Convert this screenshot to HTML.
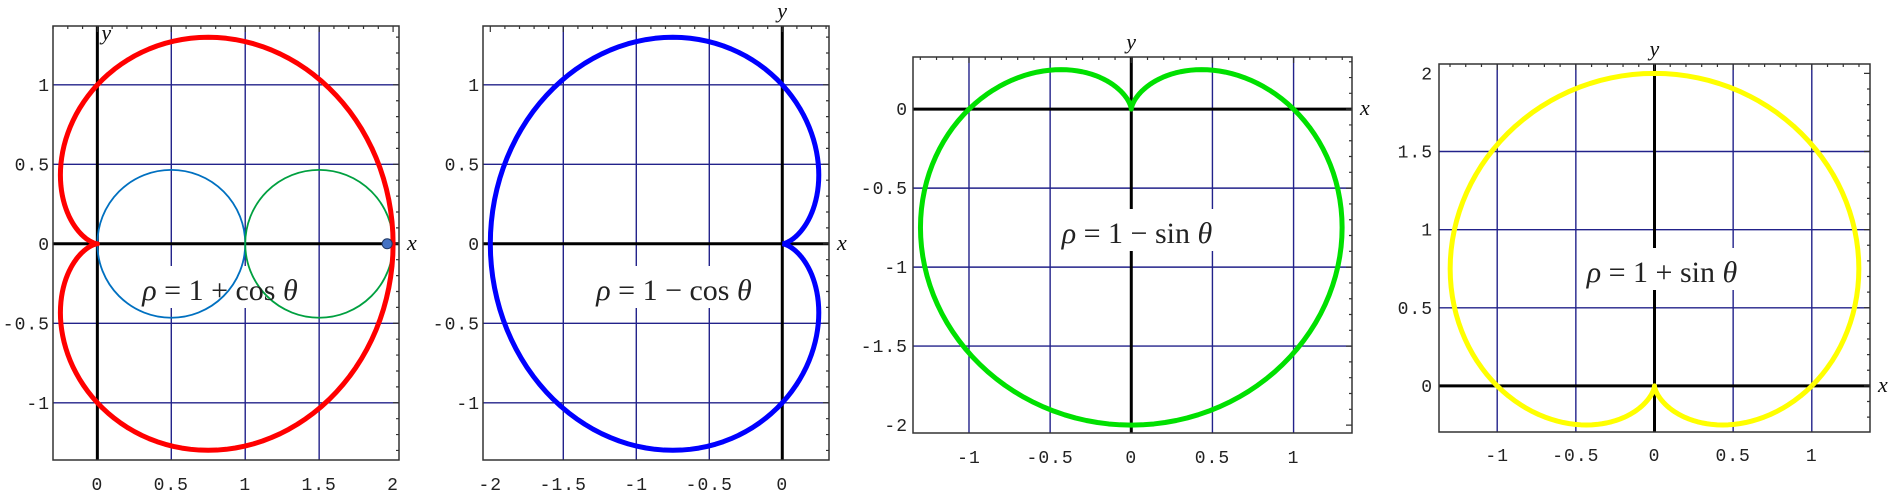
<!DOCTYPE html>
<html><head><meta charset="utf-8"><style>
html,body{margin:0;padding:0;background:#fff;}
svg{display:block;}
.tk{font-family:"Liberation Mono",monospace;font-size:18px;letter-spacing:1px;fill:#222;}
.ax{font-family:"Liberation Serif",serif;font-style:italic;font-size:22px;fill:#111;}
.eq{font-family:"Liberation Serif",serif;font-size:30px;fill:#222;}
</style></head><body>
<svg id="chart" width="1891" height="497" viewBox="0 0 1891 497"></svg>
<script>
// ---- data ----
const panelNames = ["cardioid-1-plus-cos","cardioid-1-minus-cos","cardioid-1-minus-sin","cardioid-1-plus-sin"];
const panelFuncs = ["1+cos","1-cos","1-sin","1+sin"];
const panelColors = ["#ff0000","#0000ff","#00e000","#ffff00"];
const xTicks1 = [0,0.5,1,1.5,2];
const xTickLabels1 = ["0","0.5","1","1.5","2"];
const xTicks2 = [-2,-1.5,-1,-0.5,0];
const xTickLabels2 = ["-2","-1.5","-1","-0.5","0"];
const xTicks34 = [-1,-0.5,0,0.5,1];
const xTickLabels34 = ["-1","-0.5","0","0.5","1"];
const yTicks12 = [-1,-0.5,0,0.5,1];
const yTickLabels12 = ["-1","-0.5","0","0.5","1"];
const yTicks3 = [-2,-1.5,-1,-0.5,0];
const yTickLabels3 = ["-2","-1.5","-1","-0.5","0"];
const yTicks4 = [0,0.5,1,1.5,2];
const yTickLabels4 = ["0","0.5","1","1.5","2"];
const circleCentersX = [0.5,1.5];
const circleRadii = [0.5,0.5];
const circleColors = ["#0070c0","#00a040"];
const markerX = [1.96];
const thetaSamples = [];
for(let i=0;i<=360;i+=2) thetaSamples.push(i);

// ---- layout ----
const panels = [
 {x0:53,x1:399,y0:26,y1:460,xmin:-0.3,xmax:2.04,ymin:-1.36,ymax:1.37,xt:xTicks1,xl:xTickLabels1,yt:yTicks12,yl:yTickLabels12,xlabY:490,ylabR:50,eq:[220,292]},
 {x0:483,x1:829,y0:26,y1:460,xmin:-2.05,xmax:0.32,ymin:-1.36,ymax:1.37,xt:xTicks2,xl:xTickLabels2,yt:yTicks12,yl:yTickLabels12,xlabY:490,ylabR:480,eq:[674,292]},
 {x0:913,x1:1352,y0:57,y1:433,xmin:-1.345,xmax:1.36,ymin:-2.05,ymax:0.33,xt:xTicks34,xl:xTickLabels34,yt:yTicks3,yl:yTickLabels3,xlabY:463,ylabR:908,eq:[1137,235]},
 {x0:1439,x1:1870,y0:64,y1:432,xmin:-1.37,xmax:1.37,ymin:-0.295,ymax:2.06,xt:xTicks34,xl:xTickLabels34,yt:yTicks4,yl:yTickLabels4,xlabY:461,ylabR:1433,eq:[1662,274]}
];
const NS="http://www.w3.org/2000/svg";
const svg=document.getElementById('chart');
function mk(tag,attrs,parent){const e=document.createElementNS(NS,tag);for(const k in attrs)e.setAttribute(k,attrs[k]);(parent||svg).appendChild(e);return e;}
function rhoOf(f,t){if(f==="1+cos")return 1+Math.cos(t);if(f==="1-cos")return 1-Math.cos(t);if(f==="1-sin")return 1-Math.sin(t);return 1+Math.sin(t);}

panels.forEach((p,pi)=>{
 const sx=v=>p.x0+(v-p.xmin)/(p.xmax-p.xmin)*(p.x1-p.x0);
 const sy=v=>p.y1-(v-p.ymin)/(p.ymax-p.ymin)*(p.y1-p.y0);
 const g=mk('g',{});
 
 
 // grid (no lines at |v|=2)
 p.xt.forEach(v=>{if(v===0||Math.abs(v)===2)return;const l=mk('line',{x1:sx(v),x2:sx(v),y1:p.y0,y2:p.y1,stroke:'#22228a','stroke-width':1.4},g);
  
  });
 p.yt.forEach(v=>{if(v===0||Math.abs(v)===2)return;const l=mk('line',{x1:p.x0,x2:p.x1,y1:sy(v),y2:sy(v),stroke:'#22228a','stroke-width':1.4},g);
  
  });
 // axes
 const xa=mk('line',{x1:p.x0,x2:p.x1,y1:sy(0),y2:sy(0),stroke:'#000','stroke-width':3},g);
 
 
 const ya=mk('line',{x1:sx(0),x2:sx(0),y1:p.y0,y2:p.y1,stroke:'#000','stroke-width':3},g);
 
 
 // frame
 const fr=mk('rect',{x:p.x0,y:p.y0,width:p.x1-p.x0,height:p.y1-p.y0,fill:'none',stroke:'#333','stroke-width':1.5},g);
 
 
 // minor ticks top & right
 let tickPath='';
 for(let v=Math.ceil(p.xmin*10);v<=Math.floor(p.xmax*10);v++){const L=(v%5===0)?6:3;tickPath+=`M${sx(v/10)},${p.y0}v${L}`;}
 for(let v=Math.ceil(p.ymin*10);v<=Math.floor(p.ymax*10);v++){const L=(v%5===0)?6:3;tickPath+=`M${p.x1},${sy(v/10)}h${-L}`;}
 const tp=mk('path',{d:tickPath,stroke:'#333','stroke-width':1.2,fill:'none'},g);
 
 
 // tick labels
 p.xt.forEach((v,i)=>{const t=mk('text',{x:sx(v),y:p.xlabY,'text-anchor':'middle',class:'tk'},g);t.textContent=p.xl[i];
  
  });
 p.yt.forEach((v,i)=>{const t=mk('text',{x:p.ylabR,y:sy(v)+6,'text-anchor':'end',class:'tk'},g);t.textContent=p.yl[i];
  
  });
 // axis letters
 const xlab=mk('text',{x:p.x1+8,y:sy(0)+6,class:'ax'},g);xlab.textContent='x';
 
 
 const ylab=mk('text',{x:sx(0)+(pi===0?4:-5),y:(pi===0?p.y0+14:p.y0-8),class:'ax'},g);ylab.textContent='y';
 
 
 // equation label box
 const eqBg=mk('rect',{x:p.eq[0]-78,y:p.eq[1]-26,width:156,height:42,fill:'#fff'},g);
 
 
 // circles in panel 1
 if(pi===0){
  circleCentersX.forEach((c,i)=>{const e=mk('ellipse',{cx:sx(c),cy:sy(0),rx:sx(c+circleRadii[i])-sx(c),ry:sy(0)-sy(circleRadii[i]*0.93),fill:'none',stroke:circleColors[i],'stroke-width':1.8},g);
   
   });
 }
 // curve
 let d='';
 thetaSamples.forEach((deg,i)=>{const t=deg*Math.PI/180;const r=rhoOf(panelFuncs[pi],t);d+=(i?'L':'M')+sx(r*Math.cos(t)).toFixed(2)+','+sy(r*Math.sin(t)).toFixed(2);});
 const cv=mk('path',{d:d,fill:'none',stroke:panelColors[pi],'stroke-width':5,'stroke-linejoin':'round'},g);
 
 
 if(pi===0){
  markerX.forEach(m=>{const c=mk('circle',{cx:sx(m),cy:sy(0),r:5,fill:'#4472c4',stroke:'#1f3864','stroke-width':1},g);
   
   });
 }
 const eq=mk('text',{x:p.eq[0],y:p.eq[1]+8,'text-anchor':'middle',class:'eq'},g);
 eq.innerHTML='<tspan font-style="italic">\u03C1</tspan> = 1 '+(panelFuncs[pi][1]==='+'?'+':'\u2212')+' '+panelFuncs[pi].slice(2)+' <tspan font-style="italic">\u03B8</tspan>';
 
 
});
</script>
</body></html>
